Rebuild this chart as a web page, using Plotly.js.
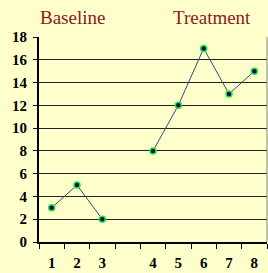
<!DOCTYPE html>
<html>
<head>
<meta charset="utf-8">
<script src="https://cdn.plot.ly/plotly-3.0.1.min.js"></script>
<style>html,body{margin:0;padding:0;background:#FFFFCC;}#chart{width:268px;height:273px;}</style>
</head>
<body>
<div id="chart"></div>
<script>
// Session categories (blank slot separates the two phases)
const categories = ["1", "2", "3", " ", "4", "5", "6", "7", "8"];
const baselineSessions = ["1", "2", "3"];
const baselineValues = [3, 5, 2];
const treatmentSessions = ["4", "5", "6", "7", "8"];
const treatmentValues = [8, 12, 17, 13, 15];
const phaseLabels = ["Baseline", "Treatment"];
const yTicks = [0, 2, 4, 6, 8, 10, 12, 14, 16, 18];

const lineStyle = {color: "#2B4F7A", width: 1};
const markerStyle = {color: "#000080", size: 6, line: {color: "#22EE22", width: 1.5}};

const traces = [
  {x: baselineSessions, y: baselineValues, type: "scatter", mode: "lines+markers",
   line: lineStyle, marker: markerStyle, hoverinfo: "x+y"},
  {x: treatmentSessions, y: treatmentValues, type: "scatter", mode: "lines+markers",
   line: lineStyle, marker: markerStyle, hoverinfo: "x+y"}
];

const titleFont = {family: "Liberation Serif, Times New Roman, serif", size: 19, color: "#8B1A1A"};
const tickFont = {family: "Liberation Serif, Times New Roman, serif", size: 15, color: "#000", weight: "bold"};

const layout = {
  width: 268, height: 273,
  margin: {l: 39, r: 1, t: 37, b: 31},
  paper_bgcolor: "#FFFFCC",
  plot_bgcolor: "#FFFFCC",
  showlegend: false,
  font: {family: "Liberation Serif, Times New Roman, serif", size: 15, color: "#000"},
  xaxis: {
    type: "category",
    categoryorder: "array",
    categoryarray: categories,
    range: [-0.5, 8.5],
    tickson: "boundaries",
    ticks: "outside", ticklen: 5, tickwidth: 1, tickcolor: "#000",
    ticklabelstandoff: 6,
    showgrid: false,
    showline: true, linecolor: "#000", linewidth: 2,
    tickfont: tickFont,
    fixedrange: true, zeroline: false
  },
  yaxis: {
    range: [0, 18],
    tickvals: yTicks,
    ticks: "outside", ticklen: 4, tickwidth: 1, tickcolor: "#000",
    ticklabelstandoff: 3,
    showgrid: true, gridcolor: "#222", gridwidth: 1,
    showline: true, linecolor: "#000", linewidth: 2,
    zeroline: false,
    tickfont: tickFont,
    fixedrange: true
  },
  shapes: [
    {type: "line", xref: "paper", yref: "paper", x0: 1, x1: 1, y0: 0, y1: 1,
     line: {color: "#888", width: 1}}
  ],
  annotations: [
    {text: phaseLabels[0], xref: "paper", yref: "paper", x: 0.149, y: 1.093,
     xanchor: "center", yanchor: "middle", showarrow: false, font: titleFont},
    {text: phaseLabels[1], xref: "paper", yref: "paper", x: 0.759, y: 1.093,
     xanchor: "center", yanchor: "middle", showarrow: false, font: titleFont}
  ]
};

Plotly.newPlot("chart", traces, layout, {displayModeBar: false, staticPlot: true});
</script>
</body>
</html>
